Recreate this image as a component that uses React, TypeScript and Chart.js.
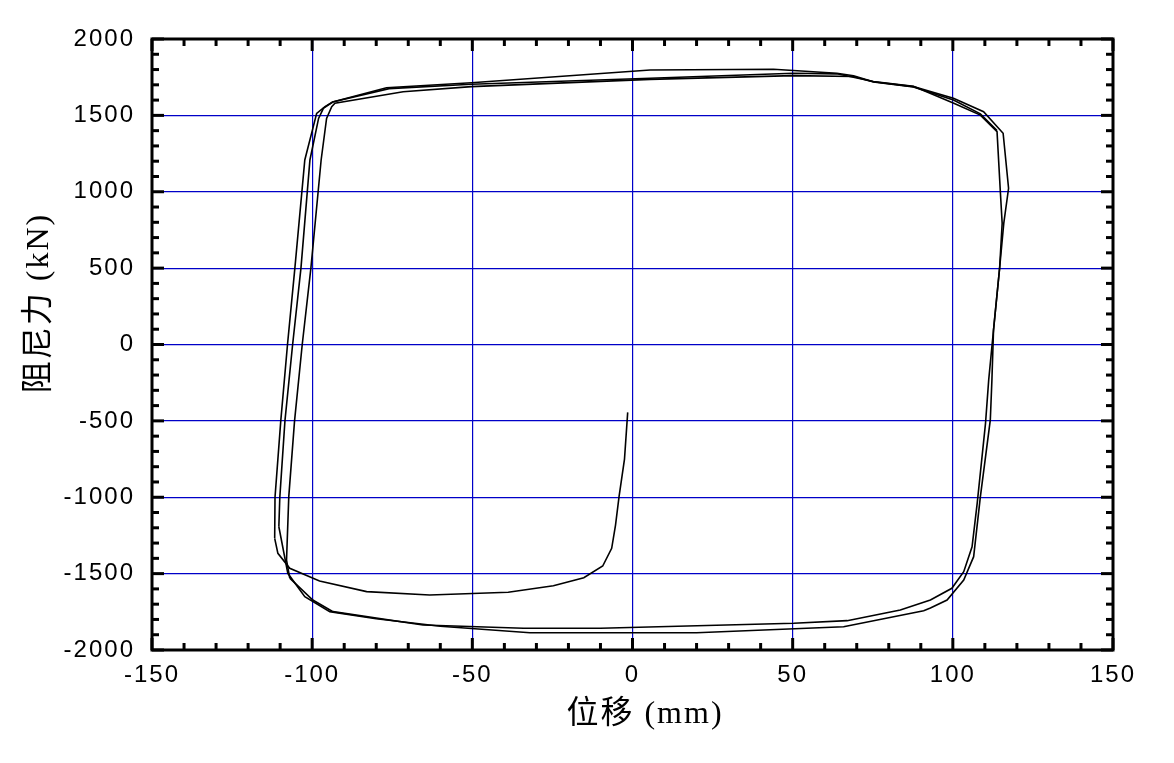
import { useEffect, useRef } from "react";
import { Chart, registerables } from "chart.js";

Chart.register(...registerables);

// ---- axis settings ----
const X_MIN = -150;
const X_MAX = 150;
const X_MAJOR = 50;
const X_MINOR = 10;
const Y_MIN = -2000;
const Y_MAX = 2000;
const Y_MAJOR = 500;
const Y_MINOR = 100;

const X_TITLE = "位移 (mm)";
const Y_TITLE = "阻尼力 (kN)";

// ---- data (displacement mm, damping force kN) ----
const initialX = [-1.5, -2.5, -4.2, -5.3, -6.5, -9.3, -15.2, -24.7, -38.8, -63.3, -83, -97.7, -107, -110.7, -111.7];
const initialY = [-444, -750, -996, -1182, -1334, -1450, -1527, -1579, -1622, -1640, -1618, -1548, -1465, -1367, -1269];

const cycle1X = [
  -111.7, -111.6, -109.8, -107.7, -105.4, -102.3, -98.6, -96, -93.6,
  -76.8, -50.3, 5.5, 44, 63.8, 69, 75.2, 87.7, 100.2, 109.6, 115.7,
  117.4, 115.9, 114.6, 112.7, 112.2, 111.7, 108.6, 106.5, 103.4, 98.2, 93,
  90.9, 65.9, 20, -32, -60, -80, -94.5, -102.3, -107.6, -110.4,
];
const cycle1Y = [
  -1269, -1000, -500, 0, 500, 1208, 1513, 1557, 1587,
  1681, 1714, 1797, 1802, 1776, 1760, 1720, 1688, 1612, 1524, 1383,
  1023, 793, 499, 95, -232, -494, -996, -1389, -1542, -1673, -1725,
  -1743, -1848, -1887, -1887, -1845, -1795, -1749, -1651, -1498, -1193,
];

const cycle2X = [
  -110.4, -110.1, -108.5, -106.1, -103.5, -100.7, -98, -96.5, -93.6,
  -76, -50.3, 5.5, 50.2, 63.8, 75.2, 87.7, 100.3, 108.6, 113.8,
  114.8, 115.4, 114.6, 112.7, 111.2, 110.2, 107.6, 106, 103.4, 99.7, 93,
  83.6, 67, 50.3, -10, -34, -65.4, -93.5, -99.8, -107,
];
const cycle2Y = [
  -1193, -1000, -500, 0, 500, 1208, 1480, 1546, 1587,
  1675, 1704, 1743, 1776, 1772, 1722, 1690, 1579, 1502, 1393,
  1011, 793, 499, 95, -232, -516, -1040, -1324, -1487, -1596, -1673,
  -1738, -1808, -1825, -1858, -1858, -1836, -1749, -1673, -1529,
];

const cycle3X = [
  -107, -108, -107.3, -105.5, -103.1, -100.4, -97.2, -95.5, -93.9, -92.9,
  -71.6, -50.3, 5.5, 50.2, 69, 75.2, 87.7, 100.2, 108.6, 113.8,
];
const cycle3Y = [
  -1529, -1411, -996, -500, 0, 500, 1208, 1480, 1557, 1579,
  1655, 1688, 1736, 1760, 1755, 1718, 1686, 1600, 1510, 1400,
];

const toPoints = (xs: number[], ys: number[]) => xs.map((x, i) => ({ x, y: ys[i] }));

const GRID_BLUE = "#0000c8";
const TICK_FONT = '"Liberation Sans", Arial, sans-serif';
const TITLE_FONT = '"Liberation Serif", "Noto Sans CJK SC", serif';

const framePlugin = {
  id: "frameTicks",
  beforeDraw(chart: any) {
    (chart.ctx as any).letterSpacing = "2px";
  },
  afterDraw(chart: any) {
    const { ctx, chartArea: a, scales } = chart;
    const xs = scales.x;
    const ys = scales.y;
    ctx.save();
    ctx.strokeStyle = "#000";
    ctx.lineCap = "butt";
    ctx.lineWidth = 3;
    const seg = (x1: number, y1: number, x2: number, y2: number) => {
      ctx.beginPath();
      ctx.moveTo(x1, y1);
      ctx.lineTo(x2, y2);
      ctx.stroke();
    };
    for (let v = X_MIN; v <= X_MAX; v += X_MINOR) {
      const p = xs.getPixelForValue(v);
      const len = v % X_MAJOR === 0 ? 12 : 7;
      seg(p, a.bottom, p, a.bottom - len);
      seg(p, a.top, p, a.top + len);
    }
    for (let v = Y_MIN; v <= Y_MAX; v += Y_MINOR) {
      const p = ys.getPixelForValue(v);
      const len = v % Y_MAJOR === 0 ? 12 : 7;
      seg(a.left, p, a.left + len, p);
      seg(a.right, p, a.right - len, p);
    }
    ctx.strokeRect(a.left, a.top, a.right - a.left, a.bottom - a.top);

    // axis titles
    (ctx as any).letterSpacing = "2px";
    ctx.fillStyle = "#000";
    ctx.font = `32px ${TITLE_FONT}`;
    ctx.textAlign = "center";
    ctx.textBaseline = "middle";
    ctx.fillText(X_TITLE, 645, 715);
    ctx.translate(40, 303);
    ctx.rotate(-Math.PI / 2);
    ctx.fillText(Y_TITLE, 0, 0);
    ctx.restore();
  },
};

export default function App() {
  const ref = useRef<HTMLCanvasElement | null>(null);

  useEffect(() => {
    if (!ref.current) return;
    const series = [
      toPoints(initialX, initialY),
      toPoints(cycle1X, cycle1Y),
      toPoints(cycle2X, cycle2Y),
      toPoints(cycle3X, cycle3Y),
    ];
    const chart = new Chart(ref.current, {
      type: "scatter",
      data: {
        datasets: series.map((d, i) => ({
          label: `segment ${i}`,
          data: d,
          showLine: true,
          borderColor: "#000",
          borderWidth: 1.6,
          pointRadius: 0,
          tension: 0,
          fill: false,
        })),
      },
      options: {
        responsive: false,
        animation: false,
        devicePixelRatio: 1,
        layout: { padding: { left: 0, top: 39, right: 61, bottom: 0 } },
        plugins: {
          legend: { display: false },
          tooltip: { enabled: false },
          title: { display: false },
        },
        scales: {
          x: {
            type: "linear",
            min: X_MIN,
            max: X_MAX,
            border: { display: false },
            grid: {
              color: GRID_BLUE,
              lineWidth: 1.2,
              drawTicks: false,
            },
            ticks: {
              stepSize: X_MAJOR,
              padding: 11,
              color: "#000",
              font: { family: TICK_FONT, size: 24 },
              callback: (v: any) => String(v),
            },
            afterFit: (s: any) => {
              s.height = 113;
            },
          },
          y: {
            type: "linear",
            min: Y_MIN,
            max: Y_MAX,
            border: { display: false },
            grid: {
              color: GRID_BLUE,
              lineWidth: 1.2,
              drawTicks: false,
            },
            ticks: {
              stepSize: Y_MAJOR,
              padding: 17,
              color: "#000",
              font: { family: TICK_FONT, size: 24 },
              callback: (v: any) => String(v),
            },
            afterFit: (s: any) => {
              s.width = 152;
            },
          },
        },
      },
      plugins: [framePlugin],
    });
    return () => chart.destroy();
  }, []);

  return (
    <canvas
      ref={ref}
      width={1174}
      height={763}
      style={{ position: "absolute", left: 0, top: 0, width: 1174, height: 763, background: "#fff" }}
    />
  );
}
